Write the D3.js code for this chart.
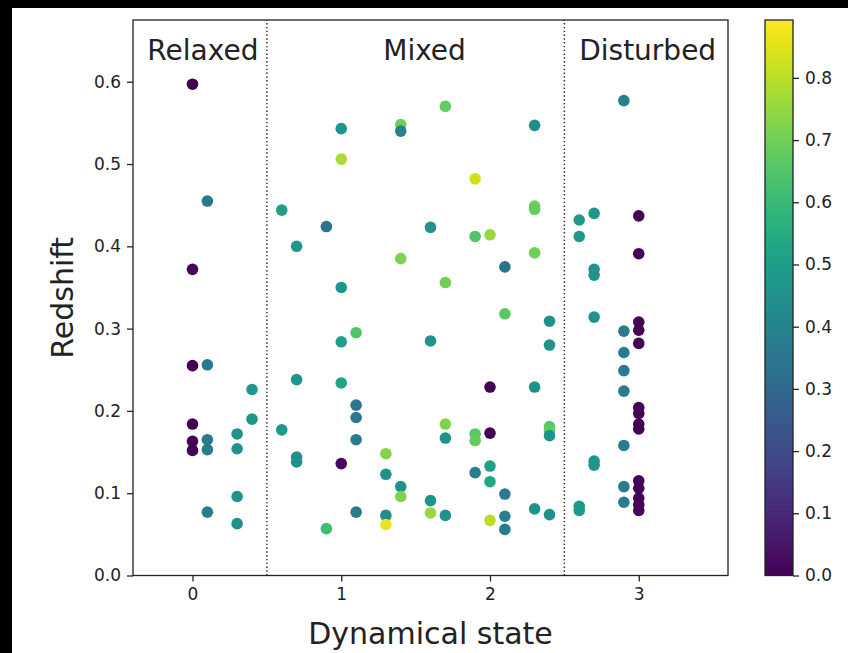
<!DOCTYPE html>
<html>
<head>
<meta charset="utf-8">
<script src="https://cdn.jsdelivr.net/npm/d3@7"></script>
<style>
  html, body { margin: 0; padding: 0; background: #000; }
  svg { display: block; }
  text { font-family: "DejaVu Sans", sans-serif; fill: #222; }
</style>
</head>
<body>
<svg id="chart" width="848" height="653"></svg>
<script>
// dynamical state (x), redshift (y), colour value
const state = [
  0, 0, 0, 0, 0, 0,
  0.1, 0.1, 0.1, 0.1, 0.1,
  0.3, 0.3, 0.3, 0.3,
  0.4, 0.4,
  0.6, 0.6,
  0.7, 0.7, 0.7, 0.7,
  0.9, 0.9,
  1.0, 1.0, 1.0, 1.0, 1.0, 1.0,
  1.1, 1.1, 1.1, 1.1, 1.1,
  1.3, 1.3, 1.3, 1.3,
  1.4, 1.4, 1.4, 1.4, 1.4,
  1.6, 1.6, 1.6, 1.6,
  1.7, 1.7, 1.7, 1.7, 1.7,
  1.9, 1.9, 1.9, 1.9, 1.9,
  2.0, 2.0, 2.0, 2.0, 2.0, 2.0,
  2.1, 2.1, 2.1, 2.1, 2.1,
  2.3, 2.3, 2.3, 2.3, 2.3, 2.3,
  2.4, 2.4, 2.4, 2.4, 2.4, 2.4,
  2.6, 2.6, 2.6, 2.6,
  2.7, 2.7, 2.7, 2.7, 2.7, 2.7,
  2.9, 2.9, 2.9, 2.9, 2.9, 2.9, 2.9, 2.9,
  3, 3, 3, 3, 3, 3, 3, 3, 3, 3, 3, 3, 3, 3
];
const redshift = [
  0.597, 0.372, 0.255, 0.184, 0.163, 0.152,
  0.455, 0.256, 0.165, 0.153, 0.077,
  0.172, 0.154, 0.096, 0.063,
  0.226, 0.190,
  0.444, 0.177,
  0.400, 0.238, 0.144, 0.138,
  0.424, 0.057,
  0.543, 0.506, 0.350, 0.284, 0.234, 0.136,
  0.295, 0.207, 0.192, 0.165, 0.077,
  0.148, 0.123, 0.073, 0.062,
  0.548, 0.540, 0.385, 0.108, 0.096,
  0.423, 0.285, 0.091, 0.076,
  0.570, 0.356, 0.184, 0.167, 0.073,
  0.482, 0.412, 0.172, 0.164, 0.125,
  0.414, 0.229, 0.173, 0.133, 0.114, 0.067,
  0.375, 0.318, 0.099, 0.072, 0.056,
  0.547, 0.449, 0.445, 0.392, 0.229, 0.081,
  0.309, 0.280, 0.181, 0.176, 0.170, 0.074,
  0.432, 0.412, 0.084, 0.079,
  0.440, 0.372, 0.365, 0.314, 0.139, 0.134,
  0.577, 0.297, 0.271, 0.249, 0.224, 0.158, 0.108, 0.089,
  0.437, 0.391, 0.308, 0.298, 0.282, 0.204, 0.197, 0.184, 0.178, 0.115, 0.106, 0.094, 0.086, 0.079
];
const colourVal = [
  0.0, 0.01, 0.0, 0.0, 0.0, 0.0,
  0.36, 0.36, 0.37, 0.37, 0.37,
  0.45, 0.45, 0.45, 0.45,
  0.47, 0.47,
  0.50, 0.48,
  0.47, 0.47, 0.45, 0.45,
  0.34, 0.62,
  0.47, 0.78, 0.47, 0.50, 0.52, 0.02,
  0.65, 0.35, 0.36, 0.37, 0.37,
  0.73, 0.45, 0.43, 0.86,
  0.70, 0.40, 0.72, 0.45, 0.72,
  0.46, 0.45, 0.45, 0.75,
  0.68, 0.70, 0.72, 0.45, 0.45,
  0.83, 0.65, 0.66, 0.68, 0.38,
  0.75, 0.0, 0.0, 0.50, 0.53, 0.80,
  0.34, 0.66, 0.37, 0.38, 0.38,
  0.43, 0.70, 0.68, 0.70, 0.45, 0.45,
  0.45, 0.45, 0.66, 0.68, 0.46, 0.45,
  0.48, 0.48, 0.48, 0.48,
  0.47, 0.45, 0.45, 0.45, 0.47, 0.47,
  0.38, 0.37, 0.37, 0.37, 0.37, 0.37, 0.37, 0.37,
  0.01, 0.01, 0.01, 0.01, 0.01, 0.01, 0.01, 0.01, 0.01, 0.01, 0.01, 0.01, 0.01, 0.01
];
const xTicks = [0, 1, 2, 3];
const yTicks = [0, 0.1, 0.2, 0.3, 0.4, 0.5, 0.6];
const cTicks = [0, 0.1, 0.2, 0.3, 0.4, 0.5, 0.6, 0.7, 0.8];
const regions = [
  {label: 'Relaxed', x: 0.07},
  {label: 'Mixed', x: 1.56},
  {label: 'Disturbed', x: 3.06}
];
const dividers = [0.5, 2.5];

const svg = d3.select('#chart');
svg.append('rect').attr('x', 12).attr('y', 8).attr('width', 848).attr('height', 653).attr('fill', '#fff');

const margin = {top: 20, right: 120, bottom: 77, left: 133};
const plotRight = 728;
const plotBottom = 575.5;

const x = d3.scaleLinear().domain([-0.4, 3.6]).range([margin.left, plotRight]);
const y = d3.scaleLinear().domain([0, 0.675]).range([plotBottom, margin.top]);
const cMax = 0.893;
const colour = (v) => d3.interpolateViridis(v / cMax);

// dotted region dividers
svg.selectAll('.divider')
  .data(dividers)
  .join('line')
  .attr('class', 'divider')
  .attr('x1', (d) => x(d)).attr('x2', (d) => x(d))
  .attr('y1', y(0)).attr('y2', margin.top)
  .attr('stroke', '#222')
  .attr('stroke-width', 1.4)
  .attr('stroke-dasharray', '1.4,2.4');

const pts = state.map((s, i) => ({s, z: redshift[i], c: colourVal[i]}));
svg.selectAll('.dot')
  .data(pts)
  .join('circle')
  .attr('class', 'dot')
  .attr('cx', (d) => x(d.s))
  .attr('cy', (d) => y(d.z))
  .attr('r', 5.8)
  .attr('fill', (d) => colour(d.c));

svg.selectAll('.region')
  .data(regions)
  .join('text')
  .attr('class', 'region')
  .attr('x', (d) => x(d.x))
  .attr('y', 60)
  .attr('text-anchor', 'middle')
  .attr('font-size', '28px')
  .text((d) => d.label);

// axes
const xAxis = d3.axisBottom(x).tickValues(xTicks).tickFormat(d3.format('d')).tickSize(6).tickPadding(6);
const yAxis = d3.axisLeft(y).tickValues(yTicks).tickFormat(d3.format('.1f')).tickSize(6).tickPadding(6);

svg.append('g')
  .attr('transform', `translate(0,${plotBottom})`)
  .call(xAxis)
  .call((g) => g.select('.domain').remove())
  .call((g) => g.selectAll('line').attr('stroke', '#222').attr('stroke-width', 1.3))
  .call((g) => g.selectAll('text').attr('font-size', '17px').attr('fill', '#222'));

svg.append('g')
  .attr('transform', `translate(${margin.left},0)`)
  .call(yAxis)
  .call((g) => g.select('.domain').remove())
  .call((g) => g.selectAll('line').attr('stroke', '#222').attr('stroke-width', 1.3))
  .call((g) => g.selectAll('text').attr('font-size', '17px').attr('fill', '#222'));

svg.append('rect')
  .attr('x', margin.left).attr('y', margin.top)
  .attr('width', plotRight - margin.left).attr('height', plotBottom - margin.top)
  .attr('fill', 'none').attr('stroke', '#222').attr('stroke-width', 1.3);

svg.append('text')
  .attr('x', (margin.left + plotRight) / 2)
  .attr('y', 644)
  .attr('text-anchor', 'middle')
  .attr('font-size', '30px')
  .text('Dynamical state');

svg.append('text')
  .attr('transform', `translate(73,${(margin.top + plotBottom) / 2}) rotate(-90)`)
  .attr('text-anchor', 'middle')
  .attr('font-size', '30px')
  .text('Redshift');

// colour bar
const cbX = 765, cbW = 28;
const cy = d3.scaleLinear().domain([0, cMax]).range([plotBottom, margin.top]);
const grad = svg.append('defs').append('linearGradient')
  .attr('id', 'viridis').attr('x1', 0).attr('y1', 1).attr('x2', 0).attr('y2', 0);
grad.selectAll('stop')
  .data(d3.range(0, 1.0001, 0.05))
  .join('stop')
  .attr('offset', (d) => d)
  .attr('stop-color', (d) => d3.interpolateViridis(d));

svg.append('rect')
  .attr('x', cbX).attr('y', margin.top)
  .attr('width', cbW).attr('height', plotBottom - margin.top)
  .attr('fill', 'url(#viridis)')
  .attr('stroke', '#222').attr('stroke-width', 1.3);

svg.append('g')
  .attr('transform', `translate(${cbX + cbW},0)`)
  .call(d3.axisRight(cy).tickValues(cTicks).tickFormat(d3.format('.1f')).tickSize(6).tickPadding(6))
  .call((g) => g.select('.domain').remove())
  .call((g) => g.selectAll('line').attr('stroke', '#222').attr('stroke-width', 1.3))
  .call((g) => g.selectAll('text').attr('font-size', '17px').attr('fill', '#222'));
</script>
</body>
</html>
